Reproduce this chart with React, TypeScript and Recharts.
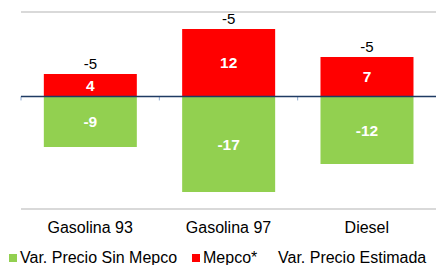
import React from 'react';
import { BarChart, Bar, XAxis, YAxis, ReferenceLine, LabelList } from 'recharts';

const categories = ['Gasolina 93', 'Gasolina 97', 'Diesel'];
const sinMepco = [-9, -17, -12];
const mepco = [4, 12, 7];
const estimada = [-5, -5, -5];

const seriesNames = ['Var. Precio Sin Mepco', 'Mepco*', 'Var. Precio Estimada'];
const seriesColors = ['#92d050', '#ff0000', 'none'];

const data = categories.map((c, i) => ({
  name: c,
  sinMepco: sinMepco[i],
  mepco: mepco[i],
  estimada: estimada[i],
}));

const FONT = '"Liberation Sans", Arial, sans-serif';

const ZeroLine = (props: any) => {
  const { x1, y1, x2, y2 } = props;
  const n = categories.length;
  const ticks = [];
  for (let i = 0; i < n; i++) {
    const x = x1 + ((x2 - x1) * i) / n;
    ticks.push(<line key={i} x1={x} x2={x} y1={y1} y2={y1 + 4} stroke="#8ea9cf" strokeWidth={1} />);
  }
  return (
    <g>
      {ticks}
      <line x1={x1} y1={y1} x2={x2} y2={y2} stroke="#1f3b63" strokeWidth={1.5} />
    </g>
  );
};

const TotalLabel = (props: any) => {
  const { x, y, width, index } = props;
  return (
    <text x={x + width / 2} y={y - 5} textAnchor="middle" fill="#000" fontSize={15} fontFamily={FONT}>
      {estimada[index]}
    </text>
  );
};

const legendLefts = [9, 192, 278];

export default function App() {
  return (
    <div style={{ position: 'absolute', left: 0, top: 0, width: 436, height: 265, overflow: 'hidden', background: '#fff' }}>
      <BarChart
        width={436}
        height={265}
        data={data}
        stackOffset="sign"
        barCategoryGap="16.5%"
        margin={{ top: 12, right: 0, left: 21, bottom: 26 }}
      >
        <XAxis
          dataKey="name"
          height={30}
          axisLine={{ stroke: '#d9d9d9', strokeWidth: 2 }}
          tickLine={false}
          tickMargin={7}
          tick={{ fill: '#000', fontSize: 16, fontFamily: FONT }}
          interval={0}
        />
        <YAxis
          width={0}
          domain={[-20, 15]}
          ticks={[-20, 15]}
          tick={false}
          tickLine={false}
          axisLine={{ stroke: '#d9d9d9', strokeWidth: 2 }}
          allowDataOverflow
        />
        <ReferenceLine y={15} stroke="#d9d9d9" strokeWidth={2} />
        <Bar dataKey="sinMepco" name={seriesNames[0]} stackId="a" fill={seriesColors[0]} isAnimationActive={false}>
          <LabelList dataKey="sinMepco" position="center" fill="#fff" fontSize={15.5} fontWeight="bold" fontFamily={FONT} />
        </Bar>
        <Bar dataKey="mepco" name={seriesNames[1]} stackId="a" fill={seriesColors[1]} isAnimationActive={false}>
          <LabelList dataKey="mepco" position="center" fill="#fff" fontSize={15.5} fontWeight="bold" fontFamily={FONT} />
          <LabelList dataKey="estimada" content={TotalLabel} />
        </Bar>
        <ReferenceLine y={0} shape={ZeroLine} />
      </BarChart>
      {seriesNames.map((n, i) => (
        <div
          key={n}
          style={{
            position: 'absolute',
            left: legendLefts[i],
            top: 248.5,
            display: 'flex',
            alignItems: 'center',
            fontFamily: FONT,
            fontSize: 16,
            color: '#000',
            whiteSpace: 'nowrap',
            lineHeight: '18px',
          }}
        >
          {seriesColors[i] !== 'none' && (
            <span style={{ display: 'inline-block', width: 8, height: 8, background: seriesColors[i], marginRight: 3 }} />
          )}
          <span>{n}</span>
        </div>
      ))}
    </div>
  );
}
